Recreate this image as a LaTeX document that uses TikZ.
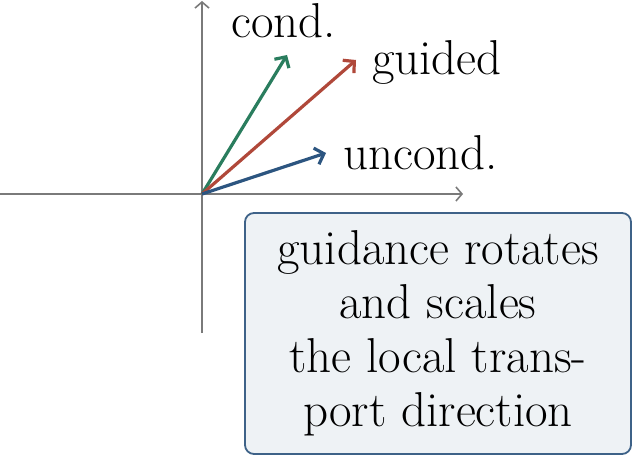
\documentclass[tikz,border=0pt]{standalone}
\usetikzlibrary{arrows.meta}
\definecolor{axisgray}{HTML}{7A7A7A}
\definecolor{condgreen}{HTML}{2A7D5E}
\definecolor{guidedred}{HTML}{B0483A}
\definecolor{uncondblue}{HTML}{2C5580}
\definecolor{boxfill}{HTML}{EEF2F5}
\definecolor{boxdraw}{HTML}{3E6288}
\begin{document}
\begin{tikzpicture}[x=1pt,y=-1pt,
  axisline/.style={draw=axisgray,line width=1.6pt,-{Straight Barb[length=6pt,width=14pt]}},
  vec/.style={line width=3.2pt,-{Straight Barb[length=8pt,width=17pt]}},
  lbl/.style={font=\fontsize{49}{54}\selectfont,anchor=base,inner sep=0pt},
  notebox/.style={draw=boxdraw,fill=boxfill,line width=1.8pt,rounded corners=9pt,
    minimum width=386pt,minimum height=241pt,align=center,
    font=\fontsize{49}{54}\selectfont}]
\useasboundingbox (0,0) rectangle (632,457);
\coordinate (o) at (202,194);
\coordinate (xl) at (0,194);
\coordinate (xr) at (463,194);
\coordinate (yb) at (202,333);
\coordinate (yt) at (202,1);
\coordinate (tc) at (287,55);
\coordinate (tg) at (356,60);
\coordinate (tu) at (326,153);
\draw[axisline] (xl) -- (xr);
\draw[axisline] (yb) -- (yt);
\draw[vec,condgreen] (o) -- (tc);
\draw[vec,guidedred] (o) -- (tg);
\draw[vec,uncondblue] (o) -- (tu);
\node[lbl] (lc) at (283.5,38) {cond.};
\node[lbl] (lg) at (437,75) {guided};
\node[lbl] (lu) at (420.5,170) {uncond.};
\node[notebox] (note) at (438,333.5) {guidance rotates\\and scales\\the local trans-\\port direction};
\end{tikzpicture}
\end{document}
